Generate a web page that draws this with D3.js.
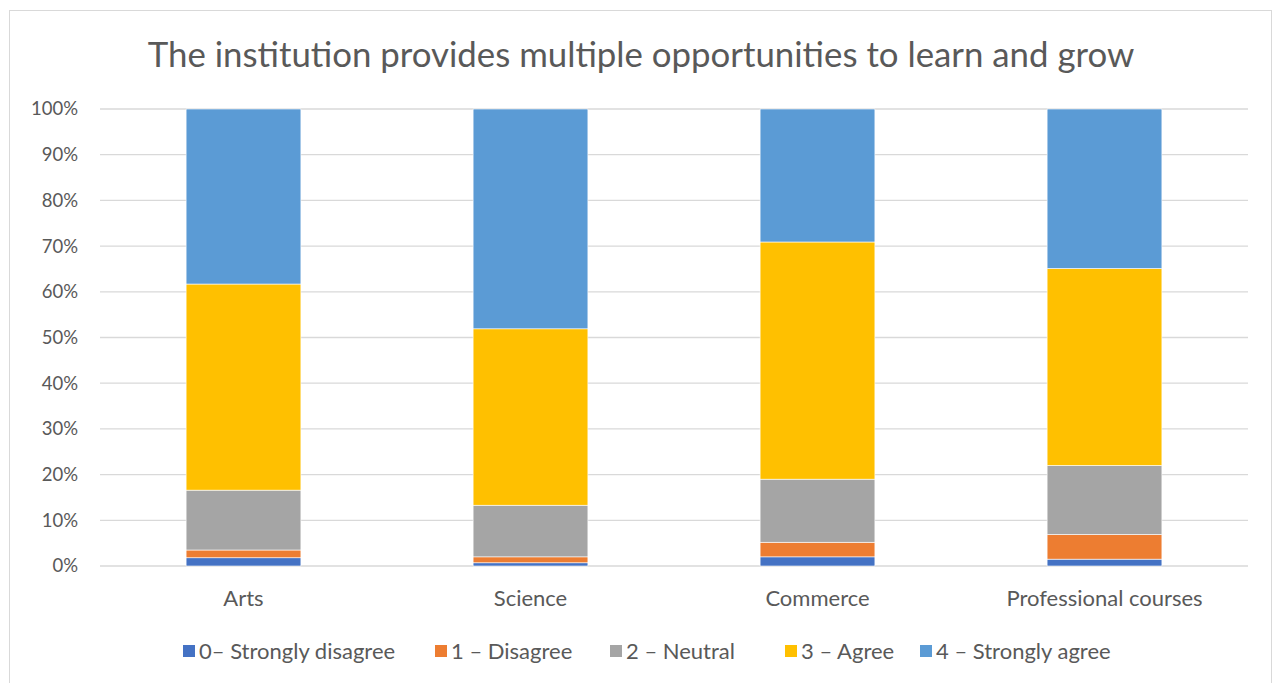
<!DOCTYPE html>
<html>
<head>
<meta charset="utf-8">
<script src="https://cdn.jsdelivr.net/npm/d3@7"></script>
<style>
  body { margin: 0; background: #fff; }
  svg { font-family: Lato, "Noto Sans", sans-serif; }
</style>
</head>
<body>
<svg id="chart"></svg>
<script>
// data (percent of respondents)
const categories = ['Arts', 'Science', 'Commerce', 'Professional courses'];
const seriesNames = ['0– Strongly disagree', '1 – Disagree', '2 – Neutral', '3 – Agree', '4 – Strongly agree'];
const stronglyDisagree = [1.8, 0.7, 2.0, 1.5];
const disagree = [1.7, 1.3, 3.2, 5.4];
const neutral = [13.1, 11.3, 13.8, 15.1];
const agree = [45.1, 38.6, 51.9, 43.1];
const stronglyAgree = [38.3, 48.1, 29.1, 34.9];
const yTicks = [0, 10, 20, 30, 40, 50, 60, 70, 80, 90, 100];
const colors = ['#4472C4', '#ED7D31', '#A5A5A5', '#FFC000', '#5B9BD5'];

const width = 1281;
const height = 683;
const margin = { top: 109, right: 33, bottom: 117, left: 100 };

const svg = d3.select('#chart')
  .attr('width', width)
  .attr('height', height);

// chart area border
svg.append('rect')
  .attr('x', 9.5).attr('y', 10.5)
  .attr('width', 1262).attr('height', 690)
  .attr('fill', '#fff')
  .attr('stroke', '#d9d9d9');

// build table for stacking
const seriesValues = [stronglyDisagree, disagree, neutral, agree, stronglyAgree];
const table = categories.map((c, i) => {
  const row = { category: c };
  seriesNames.forEach((s, j) => { row[s] = seriesValues[j][i]; });
  return row;
});
const stacked = d3.stack().keys(seriesNames)(table);

const xScale = d3.scaleBand()
  .domain(categories)
  .range([margin.left, width - margin.right])
  .paddingInner(0.6)
  .paddingOuter(0.3);

const yScale = d3.scaleLinear()
  .domain([0, 100])
  .range([height - margin.bottom, margin.top]);

// gridlines
svg.append('g')
  .selectAll('line')
  .data(yTicks)
  .join('line')
  .attr('x1', margin.left)
  .attr('x2', width - margin.right)
  .attr('y1', d => yScale(d))
  .attr('y2', d => yScale(d))
  .attr('stroke', '#d9d9d9')
  .attr('stroke-width', 1.3);

// y axis labels
const yAxis = d3.axisLeft(yScale).tickValues(yTicks).tickFormat(d => d + '%').tickSize(0).tickPadding(22);
const yG = svg.append('g')
  .attr('transform', `translate(${margin.left}, 0)`)
  .call(yAxis);
yG.select('.domain').remove();
yG.selectAll('text')
  .attr('font-family', 'Lato, "Noto Sans", sans-serif')
  .attr('font-size', 18.5)
  .attr('fill', '#595959');

// x axis labels
const xAxis = d3.axisBottom(xScale).tickSize(0).tickPadding(24);
const xG = svg.append('g')
  .attr('transform', `translate(0, ${yScale(0)})`)
  .call(xAxis);
xG.select('.domain').remove();
xG.selectAll('text')
  .attr('font-family', 'Lato, "Noto Sans", sans-serif')
  .attr('font-size', 22)
  .attr('fill', '#595959');

// bars
svg.append('g')
  .selectAll('g')
  .data(stacked)
  .join('g')
  .attr('fill', (d, i) => colors[i])
  .selectAll('rect')
  .data(d => d)
  .join('rect')
  .attr('x', d => xScale(d.data.category))
  .attr('width', xScale.bandwidth())
  .attr('y', d => yScale(d[1]))
  .attr('height', d => yScale(d[0]) - yScale(d[1]))
  .attr('stroke', '#fff')
  .attr('stroke-width', 0.6);

// title
svg.append('text')
  .attr('x', 641)
  .attr('y', 67)
  .attr('text-anchor', 'middle')
  .attr('font-size', 34.8)
  .attr('fill', '#595959')
  .text('The institution provides multiple opportunities to learn and grow');

// legend
const legendX = [183, 435, 610, 785, 920];
const legend = svg.append('g')
  .selectAll('g')
  .data(seriesNames)
  .join('g')
  .attr('transform', (d, i) => `translate(${legendX[i]}, 651)`);
legend.append('rect')
  .attr('x', 0).attr('y', -6)
  .attr('width', 12).attr('height', 12)
  .attr('fill', (d, i) => colors[i]);
legend.append('text')
  .attr('x', 16)
  .attr('y', 8)
  .attr('font-size', 22)
  .attr('fill', '#595959')
  .text(d => d);
</script>
</body>
</html>
